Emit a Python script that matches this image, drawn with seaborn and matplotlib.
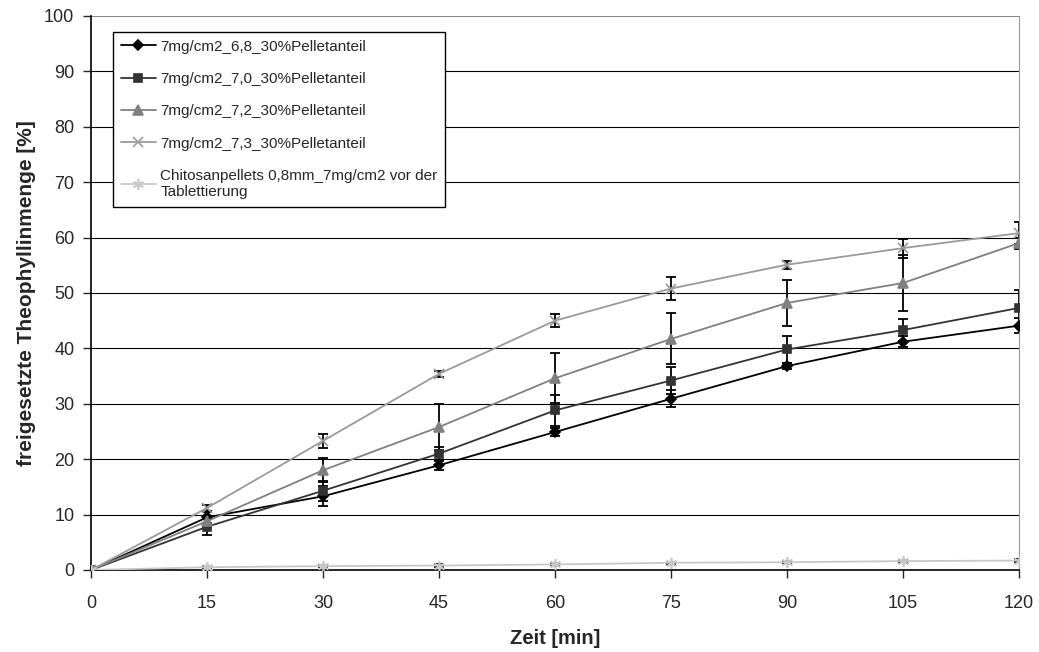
import pandas as pd
import matplotlib
matplotlib.use("Agg")
import matplotlib.pyplot as plt
import seaborn as sns

# Zeitpunkte
zeit = [0, 15, 30, 45, 60, 75, 90, 105, 120]

# Freigesetzte Menge [%] je Serie
s68 = [0, 9.5, 13.3, 18.9, 24.9, 30.9, 36.8, 41.2, 44.1]
s70 = [0, 7.8, 14.3, 21.0, 28.8, 34.2, 39.8, 43.3, 47.3]
s72 = [0, 8.8, 18.0, 25.8, 34.6, 41.7, 48.2, 51.8, 59.0]
s73 = [0, 11.2, 23.3, 35.4, 45.0, 50.8, 55.1, 58.1, 60.8]
chito = [0, 0.5, 0.7, 0.8, 1.0, 1.3, 1.4, 1.6, 1.7]

# Standardabweichungen
sd68 = [0, 1.0, 1.8, 0.8, 0.8, 1.5, 0.5, 1.0, 1.3]
sd70 = [0, 1.5, 1.8, 1.2, 2.8, 2.5, 2.5, 2.0, 3.3]
sd72 = [0, 1.0, 2.2, 4.2, 4.5, 4.6, 4.2, 5.0, 1.0]
sd73 = [0, 0.5, 1.3, 0.5, 1.2, 2.0, 0.7, 1.7, 2.0]
sdch = [0, 0.2, 0.2, 0.2, 0.2, 0.2, 0.2, 0.2, 0.2]

namen = ["7mg/cm2_6,8_30%Pelletanteil",
         "7mg/cm2_7,0_30%Pelletanteil",
         "7mg/cm2_7,2_30%Pelletanteil",
         "7mg/cm2_7,3_30%Pelletanteil",
         "Chitosanpellets 0,8mm_7mg/cm2 vor der\nTablettierung"]
werte = [s68, s70, s72, s73, chito]
sds = [sd68, sd70, sd72, sd73, sdch]

farben = ["#000000", "#333333", "#808080", "#9a9a9a", "#c8c8c8"]
marker = ["D", "s", "^", "x", (6, 2, 0)]
msize = [5, 6, 7, 7, 8]

sns.set_style("white")
plt.rcParams["font.family"] = ["Liberation Sans", "DejaVu Sans"]

fig = plt.figure(figsize=(10.39, 6.52), dpi=100)
ax = fig.add_axes([0.0876, 0.1258, 0.8931, 0.8497])

for y in range(10, 101, 10):
    ax.axhline(y, color="black" if y < 100 else "#888888", lw=0.8, zorder=0)

# Fehlerbalken
for w, s in zip(werte, sds):
    ax.errorbar(zeit, w, yerr=s, fmt="none", ecolor="black", elinewidth=1.3,
                capsize=3.5, capthick=1.3, zorder=2)

# Linien mit Markern
for name, w, c, m, ms in zip(namen, werte, farben, marker, msize):
    d = pd.DataFrame({"zeit": zeit, "wert": w})
    sns.lineplot(data=d, x="zeit", y="wert", color=c, marker=m, markersize=ms,
                 markeredgecolor=c, markerfacecolor=c, markeredgewidth=1.2,
                 linewidth=1.3, label=name, ax=ax, zorder=3)

ax.set_xlim(0, 120)
ax.set_ylim(0, 100)
ax.set_xticks(zeit)
ax.set_yticks(range(0, 101, 10))
ax.tick_params(axis="both", direction="out", length=6, width=1, labelsize=13,
               left=True, bottom=True)
ax.tick_params(axis="x", pad=12)
ax.tick_params(axis="y", pad=6)
ax.set_xlabel("Zeit [min]", fontsize=14.5, fontweight="bold", labelpad=12)
ax.set_ylabel("freigesetzte Theophyllinmenge [%]", fontsize=15, fontweight="bold",
              labelpad=6)

for sp in ["left", "bottom"]:
    ax.spines[sp].set_color("black")
    ax.spines[sp].set_linewidth(1.2)
ax.spines["top"].set_visible(False)
ax.spines["right"].set_color("#999999")

leg = ax.legend(loc="upper left", bbox_to_anchor=(0.0237, 0.971), borderaxespad=0,
                frameon=True, fancybox=False, framealpha=1, edgecolor="black",
                fontsize=11, labelspacing=1.2, handlelength=2.3,
                handletextpad=0.3, borderpad=0.5)
leg.get_frame().set_linewidth(1.0)

fig.savefig("out.png", dpi=100)
